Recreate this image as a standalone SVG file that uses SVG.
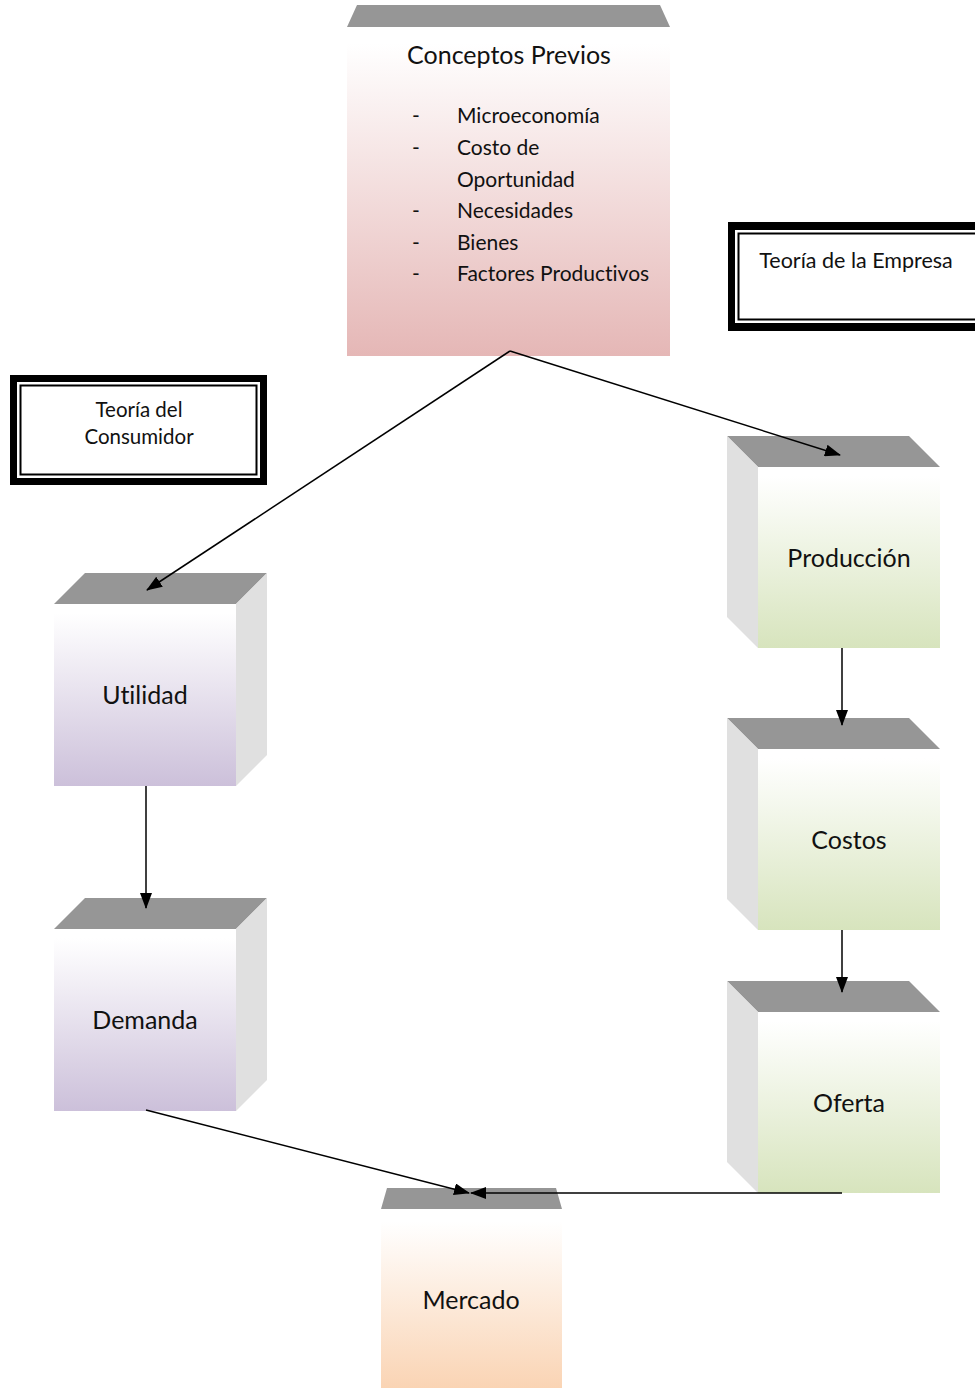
<svg xmlns="http://www.w3.org/2000/svg" width="975" height="1388" viewBox="0 0 975 1388">
<defs>
<linearGradient id="gPink" x1="0" y1="0" x2="0" y2="1"><stop offset="0.05" stop-color="#ffffff"/><stop offset="1" stop-color="#e5b7b6"/></linearGradient>
<linearGradient id="gPurple" x1="0" y1="0" x2="0" y2="1"><stop offset="0.05" stop-color="#ffffff"/><stop offset="1" stop-color="#ccc0da"/></linearGradient>
<linearGradient id="gGreen" x1="0" y1="0" x2="0" y2="1"><stop offset="0.05" stop-color="#ffffff"/><stop offset="1" stop-color="#d7e4bd"/></linearGradient>
<linearGradient id="gPeach" x1="0" y1="0" x2="0" y2="1"><stop offset="0.05" stop-color="#ffffff"/><stop offset="1" stop-color="#fad4b4"/></linearGradient>
<marker id="arr" viewBox="0 0 16 12" refX="15" refY="6" markerWidth="16" markerHeight="12" markerUnits="userSpaceOnUse" orient="auto"><path d="M0,0 L16,6 L0,12 Z" fill="#000"/></marker>
</defs>
<style>
.top{fill:#969696}
.side{fill:#e0e0e0}
.t{font-family:Lato,"Liberation Sans",sans-serif;fill:#111;font-variant-ligatures:none}
.big{font-size:25px;text-anchor:middle}
.li{font-size:21px}
.lbl{font-size:20.5px;text-anchor:middle}
.conn{stroke:#000;stroke-width:1.5;fill:none;marker-end:url(#arr)}
</style>
<rect width="975" height="1388" fill="#fff"/>

<g id="conceptos">
<polygon class="top" points="357,5 660,5 670,27 347,27"/>
<rect x="347" y="27" width="323" height="329" fill="url(#gPink)"/>
<text class="t big" x="509" y="64">Conceptos Previos</text>
<text class="t li" x="412" y="123">-</text><text class="t li" x="457" y="123">Microeconomía</text>
<text class="t li" x="412" y="155">-</text><text class="t li" x="457" y="155">Costo de</text>
<text class="t li" x="457" y="187">Oportunidad</text>
<text class="t li" x="412" y="218">-</text><text class="t li" x="457" y="218">Necesidades</text>
<text class="t li" x="412" y="250">-</text><text class="t li" x="457" y="250">Bienes</text>
<text class="t li" x="412" y="281">-</text><text class="t li" x="457" y="281">Factores Productivos</text>
</g>

<g id="empresa">
<rect x="728" y="222" width="260" height="109" fill="#000"/>
<rect x="735" y="230" width="250" height="93" fill="#fff"/>
<rect x="738.5" y="233.5" width="245" height="86" fill="none" stroke="#000" stroke-width="2"/>
<text class="t" x="856" y="268" style="font-size:21.5px;text-anchor:middle">Teoría de la Empresa</text>
</g>

<g id="consumidor">
<rect x="10" y="375" width="257" height="110" fill="#000"/>
<rect x="17" y="382" width="243" height="96" fill="#fff"/>
<rect x="20.5" y="385.5" width="236" height="89" fill="none" stroke="#000" stroke-width="2"/>
<text class="t lbl" x="139" y="417">Teoría del</text>
<text class="t lbl" x="139" y="444">Consumidor</text>
</g>

<g id="utilidad">
<polygon class="top" points="85,573 267,573 236,604 54,604"/>
<polygon class="side" points="236,604 267,573 267,755 236,786"/>
<rect x="54" y="604" width="182" height="182" fill="url(#gPurple)"/>
<text class="t big" x="145" y="704">Utilidad</text>
</g>

<g id="demanda">
<polygon class="top" points="85,898 267,898 236,929 54,929"/>
<polygon class="side" points="236,929 267,898 267,1080 236,1111"/>
<rect x="54" y="929" width="182" height="182" fill="url(#gPurple)"/>
<text class="t big" x="145" y="1029">Demanda</text>
</g>

<g id="produccion">
<polygon class="top" points="727,436 909,436 940,467 758,467"/>
<polygon class="side" points="727,436 758,467 758,648 727,617"/>
<rect x="758" y="467" width="182" height="181" fill="url(#gGreen)"/>
<text class="t big" x="849" y="567">Producción</text>
</g>

<g id="costos">
<polygon class="top" points="727,718 909,718 940,749 758,749"/>
<polygon class="side" points="727,718 758,749 758,930 727,899"/>
<rect x="758" y="749" width="182" height="181" fill="url(#gGreen)"/>
<text class="t big" x="849" y="849">Costos</text>
</g>

<g id="oferta">
<polygon class="top" points="727,981 909,981 940,1012 758,1012"/>
<polygon class="side" points="727,981 758,1012 758,1193 727,1162"/>
<rect x="758" y="1012" width="182" height="181" fill="url(#gGreen)"/>
<text class="t big" x="849" y="1112">Oferta</text>
</g>

<g id="mercado">
<polygon class="top" points="387,1188 556,1188 562,1209 381,1209"/>
<rect x="381" y="1213" width="181" height="175" fill="url(#gPeach)"/>
<text class="t big" x="471" y="1309">Mercado</text>
</g>

<g id="connectors">
<path class="conn" d="M510,351 L147,590"/>
<path class="conn" d="M510,351 L840,455"/>
<path class="conn" d="M842,648 L842,725"/>
<path class="conn" d="M842,930 L842,992"/>
<path class="conn" d="M146,786 L146,908"/>
<path class="conn" d="M146,1110 L469,1193"/>
<path class="conn" d="M842,1193 L471,1193"/>
</g>
</svg>
